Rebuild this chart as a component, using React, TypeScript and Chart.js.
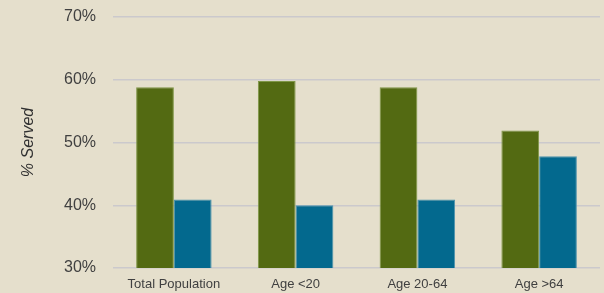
import React, { useEffect, useRef } from "react";
import { Chart, registerables } from "chart.js";

Chart.register(...registerables);

const categories = ["Total Population", "Age <20", "Age 20-64", "Age >64"];
const seriesA = [58.8, 59.8, 58.8, 51.9];
const seriesB = [40.9, 40.0, 40.9, 47.8];
const yTicks = [30, 40, 50, 60, 70];

export default function App() {
  const ref = useRef<HTMLCanvasElement | null>(null);
  useEffect(() => {
    if (!ref.current) return;
    const chart = new Chart(ref.current, {
      type: "bar",
      data: {
        labels: categories,
        datasets: [
          {
            label: "A",
            data: seriesA,
            backgroundColor: "#536a12",
            borderColor: "#7f9646",
            borderWidth: 1,
            barPercentage: 1,
            categoryPercentage: 0.62,
          },
          {
            label: "B",
            data: seriesB,
            backgroundColor: "#03698e",
            borderColor: "#4d93ad",
            borderWidth: 1,
            barPercentage: 1,
            categoryPercentage: 0.62,
          },
        ],
      },
      options: {
        animation: false,
        responsive: false,
        maintainAspectRatio: false,
        layout: { padding: { top: 17, right: 4, left: 0, bottom: 0 } },
        plugins: { legend: { display: false }, tooltip: { enabled: false } },
        scales: {
          x: {
            grid: { display: false, drawTicks: false },
            border: { display: false },
            ticks: {
              color: "#404040",
              padding: 9,
              font: { family: "'Liberation Sans', Arial, sans-serif", size: 13 },
            },
            afterFit: (s: any) => {
              s.height = 25;
            },
          },
          y: {
            min: 30,
            max: 70,
            afterBuildTicks: (s: any) => {
              s.ticks = yTicks.map((v) => ({ value: v }));
            },
            grid: { color: "#cbc9cc", lineWidth: 1.5, drawTicks: false },
            border: { display: false },
            ticks: {
              color: "#404040",
              padding: 17,
              callback: (v: any) => v + "%",
              font: { family: "'Liberation Sans', Arial, sans-serif", size: 16 },
            },
            title: {
              display: true,
              text: "% Served",
              color: "#303030",
              padding: { top: 19, bottom: 0 },
              font: { family: "'Liberation Sans', Arial, sans-serif", size: 16, style: "italic" },
            },
            afterFit: (s: any) => {
              s.width = 113;
              s.paddingTop = 0;
              s.paddingBottom = 0;
            },
          },
        },
      },
    });
    return () => chart.destroy();
  }, []);
  return (
    <div
      style={{
        position: "fixed",
        left: 0,
        top: 0,
        width: 604,
        height: 293,
        background: "#e5dfcc",
      }}
    >
      <canvas ref={ref} width={604} height={293} style={{ display: "block" }} />
    </div>
  );
}
